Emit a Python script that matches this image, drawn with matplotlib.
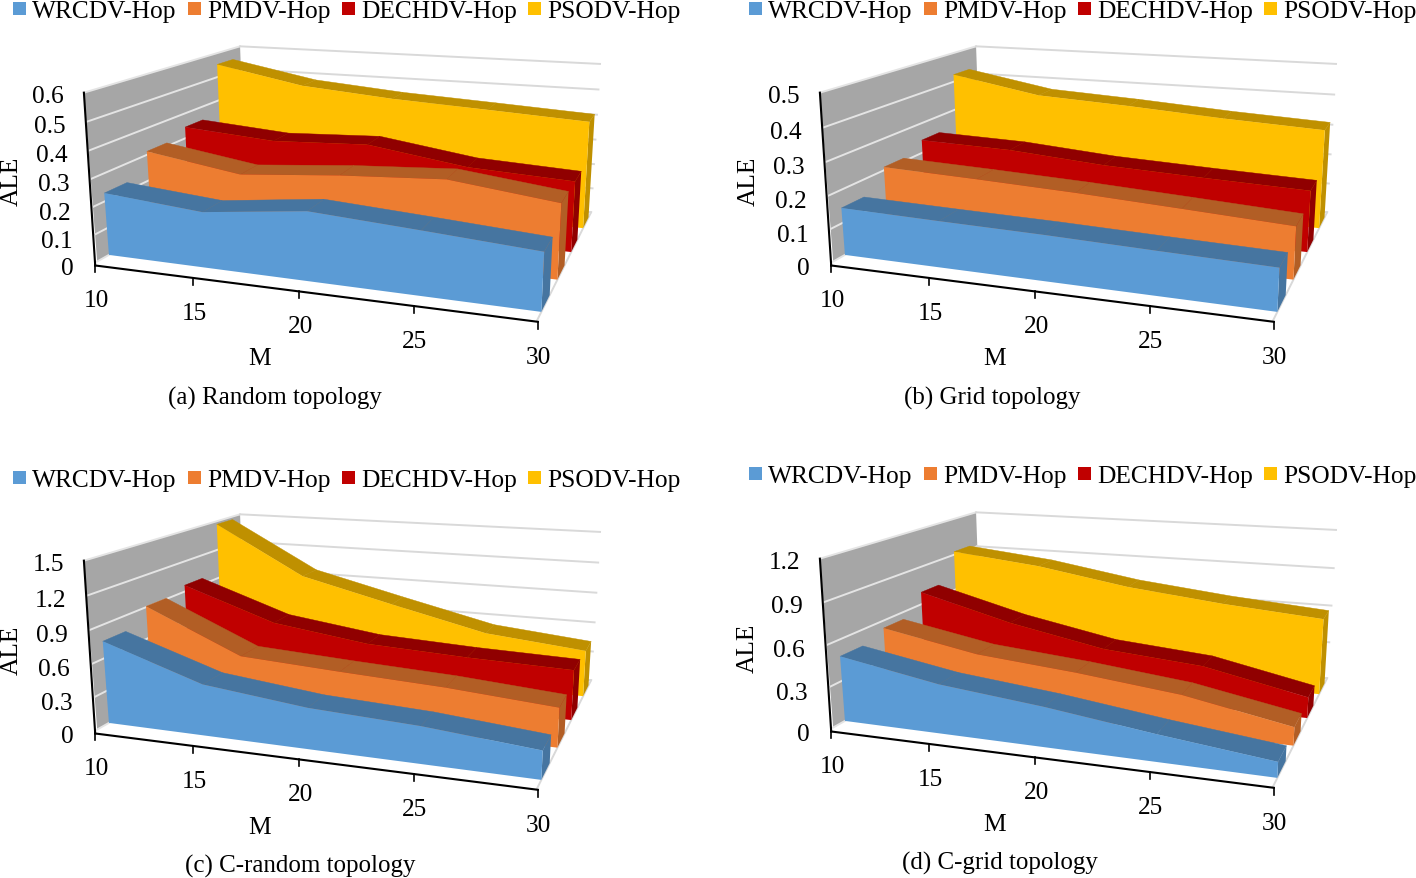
import numpy as np
import matplotlib
matplotlib.use("Agg")
import matplotlib.pyplot as plt
from matplotlib.patches import Polygon, Rectangle

plt.rcParams["font.family"] = ["Liberation Serif", "DejaVu Serif"]

m_values = [10, 15, 20, 25, 30]
series_names = ["WRCDV-Hop", "PMDV-Hop", "DECHDV-Hop", "PSODV-Hop"]

random_wrcdv = [0.23, 0.2, 0.243, 0.22, 0.195]
random_pmdv = [0.313, 0.258, 0.289, 0.31, 0.265]
random_dechdv = [0.345, 0.318, 0.334, 0.28, 0.262]
random_psodv = [0.553, 0.485, 0.455, 0.436, 0.416]

grid_wrcdv = [0.146, 0.14, 0.135, 0.127, 0.12]
grid_pmdv = [0.21, 0.2, 0.188, 0.172, 0.155]
grid_dechdv = [0.243, 0.235, 0.212, 0.2, 0.19]
grid_psodv = [0.425, 0.371, 0.355, 0.335, 0.32]

crandom_wrcdv = [0.755, 0.462, 0.362, 0.32, 0.24]
crandom_pmdv = [0.908, 0.515, 0.464, 0.42, 0.35]
crandom_dechdv = [0.963, 0.657, 0.532, 0.49, 0.465]
crandom_psodv = [1.468, 0.979, 0.755, 0.539, 0.45]

cgrid_wrcdv = [0.48, 0.356, 0.283, 0.188, 0.105]
cgrid_pmdv = [0.543, 0.412, 0.35, 0.27, 0.13]
cgrid_dechdv = [0.697, 0.51, 0.37, 0.31, 0.155]
cgrid_psodv = [0.926, 0.85, 0.73, 0.651, 0.592]

random_ticks = ["0", "0.1", "0.2", "0.3", "0.4", "0.5", "0.6"]
grid_ticks = ["0", "0.1", "0.2", "0.3", "0.4", "0.5"]
crandom_ticks = ["0", "0.3", "0.6", "0.9", "1.2", "1.5"]
cgrid_ticks = ["0", "0.3", "0.6", "0.9", "1.2"]

face_colors = ["#5B9BD5", "#ED7D31", "#C00000", "#FFC000"]
dark_colors = ["#4675A0", "#B25E25", "#900000", "#BF9000"]

FONT = 18.3
CAPTION_FONT = 18

# corners of the first panel's box in pixels, used to fit the 3D view
box_uvw = [(0, 0, 0), (1, 0, 0), (0, 1, 0), (0, 0, 1), (0, 1, 1), (1, 1, 1), (1, 1, 0)]
box_px = [(97, 262), (537, 322), (245, 180), (84, 94), (240, 47), (600, 65), (591, 213)]


def fit_view():
    rows, rhs = [], []
    for (u, v, w), (x, y) in zip(box_uvw, box_px):
        rows.append([u, v, w, 1, 0, 0, 0, 0, -x * u, -x * v, -x * w])
        rhs.append(x)
        rows.append([0, 0, 0, 0, u, v, w, 1, -y * u, -y * v, -y * w])
        rhs.append(y)
    p = np.linalg.lstsq(np.array(rows, float), np.array(rhs, float), rcond=None)[0]
    return np.append(p, 1.0).reshape(3, 4)


VIEW = fit_view()


def project(u, v, w, dx, dy):
    x, y, s = VIEW @ np.array([u, v, w, 1.0])
    return x / s + dx, y / s + dy


def axis_point(u, dx, dy):
    # the x axis sits a little in front of the floor edge
    x, y = project(u, 0, 0, dx, dy)
    return x - 2 + 3 * u, y + 4 - 3 * u


def draw_panel(ax, series, ticks, dx, dy, caption, m_xy, ale_xy, cap_xy, leg_dy):
    ymax = float(ticks[-1])
    wall = [project(0, 0, 0, dx, dy), project(0, 1, 0, dx, dy),
            project(0, 1, 1, dx, dy), project(0, 0, 1, dx, dy)]
    ax.add_patch(Polygon(wall, fc="#A6A6A6", ec="none", zorder=1))

    # gridlines round the side and back walls
    for t in ticks:
        w = float(t) / ymax
        a = project(0, 0, w, dx, dy)
        b = project(0, 1, w, dx, dy)
        c = project(1, 1, w, dx, dy)
        ax.plot([a[0], b[0]], [a[1], b[1]], color="#E4E4E4", lw=1.4, zorder=2)
        ax.plot([b[0], c[0]], [b[1], c[1]], color="#D9D9D9", lw=1.4, zorder=2)
        ax.text(a[0] - 21 + w - 2 * (1 - w), a[1] + 3 + 4 * (1 - w), t,
                ha="right", va="center", fontsize=FONT, zorder=6)

    a = project(1, 0, 0, dx, dy)
    b = project(1, 1, 0, dx, dy)
    ax.plot([a[0], b[0]], [a[1], b[1]], color="#D9D9D9", lw=1.4, zorder=2)

    # series go from the back to the front
    n = len(series)
    u = [(m - m_values[0]) / (m_values[-1] - m_values[0]) for m in m_values]
    for i in range(n - 1, -1, -1):
        v0 = (i + 0.25) / n
        v1 = (i + 0.75) / n
        w = [val / ymax for val in series[i]]
        z = 3 + (n - i) * 0.1
        for k in range(len(u) - 1):
            top = [project(u[k], v0, w[k], dx, dy), project(u[k + 1], v0, w[k + 1], dx, dy),
                   project(u[k + 1], v1, w[k + 1], dx, dy), project(u[k], v1, w[k], dx, dy)]
            ax.add_patch(Polygon(top, fc=dark_colors[i], ec=dark_colors[i], lw=0.3, zorder=z))
        end = [project(1, v0, 0, dx, dy), project(1, v1, 0, dx, dy),
               project(1, v1, w[-1], dx, dy), project(1, v0, w[-1], dx, dy)]
        ax.add_patch(Polygon(end, fc=dark_colors[i], ec="none", zorder=z))
        front = [project(0, v0, 0, dx, dy), project(1, v0, 0, dx, dy)]
        front += [project(u[k], v0, w[k], dx, dy) for k in range(len(u) - 1, -1, -1)]
        ax.add_patch(Polygon(front, fc=face_colors[i], ec="none", zorder=z + 0.01))

    # axis lines
    a = axis_point(0, dx, dy)
    b = project(0, 0, 1, dx, dy)
    c = axis_point(1, dx, dy)
    ax.plot([a[0], b[0]], [a[1], b[1]], color="black", lw=1.5, zorder=5)
    ax.plot([a[0], c[0]], [a[1], c[1]], color="black", lw=1.5, zorder=5)
    for k, m in enumerate(m_values):
        p = axis_point(u[k], dx, dy)
        ax.plot([p[0], p[0]], [p[1], p[1] + 7], color="black", lw=1.2, zorder=5)
        ax.text(p[0] + 1, p[1] + 35, str(m), ha="center", va="center", fontsize=FONT)

    ax.text(m_xy[0], m_xy[1], "M", ha="center", va="center", fontsize=FONT)
    ax.text(ale_xy[0], ale_xy[1], "ALE", ha="center", va="center", rotation=90, fontsize=FONT)
    ax.text(cap_xy[0], cap_xy[1], caption, ha="center", va="center", fontsize=CAPTION_FONT)

    # legend row
    box_x = [13, 188, 342, 528]
    for i, name in enumerate(series_names):
        ax.add_patch(Rectangle((box_x[i] + dx, 3 + leg_dy), 13, 13, fc=face_colors[i], ec="none"))
        ax.text(box_x[i] + dx + 19, 12 + leg_dy, name, ha="left", va="center", fontsize=FONT)


def main():
    fig = plt.figure(figsize=(14.16, 8.79), dpi=100)
    ax = fig.add_axes([0, 0, 1, 1])
    ax.set_xlim(0, 1416)
    ax.set_ylim(879, 0)
    ax.axis("off")

    draw_panel(ax, [random_wrcdv, random_pmdv, random_dechdv, random_psodv], random_ticks,
               0, 0, "(a) Random topology", (260, 359), (12, 181), (275, 398), 0)
    draw_panel(ax, [grid_wrcdv, grid_pmdv, grid_dechdv, grid_psodv], grid_ticks,
               736, 0, "(b) Grid topology", (995, 359), (749, 181), (992, 398), 0)
    draw_panel(ax, [crandom_wrcdv, crandom_pmdv, crandom_dechdv, crandom_psodv], crandom_ticks,
               0, 468, "(c) C-random topology", (260, 828), (12, 650), (300, 866), 469)
    draw_panel(ax, [cgrid_wrcdv, cgrid_pmdv, cgrid_dechdv, cgrid_psodv], cgrid_ticks,
               736, 466, "(d) C-grid topology", (995, 825), (748, 648), (1000, 863), 465)

    fig.savefig("out.png", dpi=100)


if __name__ == "__main__":
    main()
